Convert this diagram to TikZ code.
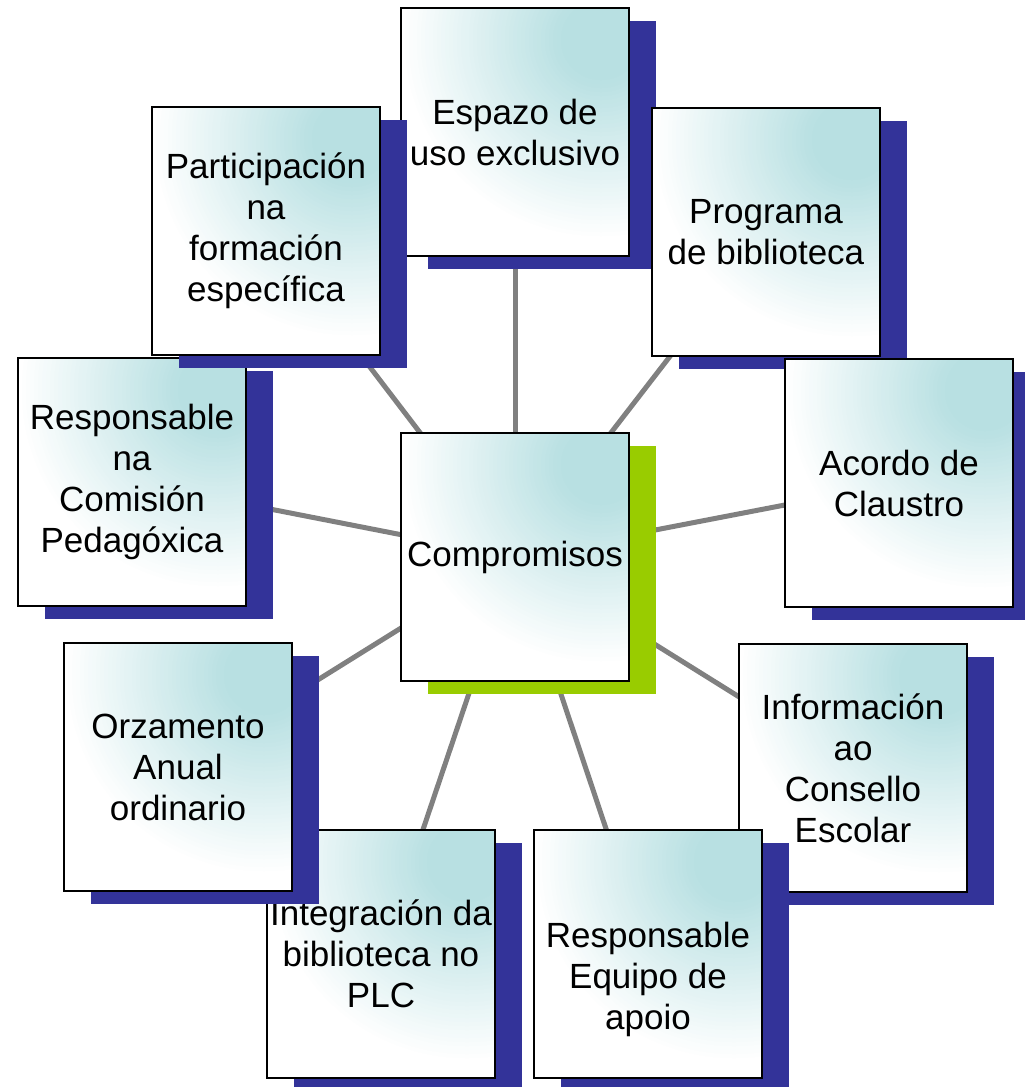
\documentclass[tikz,border=0pt]{standalone}
\usepackage{fontspec}
\setmainfont{Liberation Sans}
\usetikzlibrary{backgrounds}
\definecolor{boxteal}{RGB}{184,224,226}
\definecolor{shadowblue}{RGB}{51,51,153}
\definecolor{shadowgreen}{RGB}{153,204,0}
\definecolor{linkgray}{RGB}{128,128,128}
\tikzset{
  ibox/.style={rectangle, draw=black, line width=2.2pt, fill=white,
    path picture={
      \coordinate (gc) at ([shift={(-28pt,-32pt)}]path picture bounding box.north east);
      \foreach \i in {0,...,40}{%
        \pgfmathsetmacro\gr{200-4*\i}%
        \pgfmathsetmacro\gp{2.5*\i}%
        \fill[boxteal!\gp!white] (gc) circle[radius=\gr pt];}
    },
    minimum width=228pt, minimum height=248pt, inner sep=0pt, align=center,
    font=\fontsize{35}{41}\selectfont},
  itext/.style={align=center, inner sep=0pt, font=\fontsize{35}{41}\selectfont},
  link/.style={draw=linkgray, line width=5pt}
}
\newcommand\dshadow[3]{\fill[#1] ([shift={(-87,-111)}]#2,#3) rectangle ([shift={(141,137)}]#2,#3);}
\begin{document}
\begin{tikzpicture}[x=1pt,y=-1pt]
\useasboundingbox (0,0) rectangle (1025,1087);
% Espazo
\dshadow{shadowblue}{515}{132}
\node[ibox] (esp) at (515,132) {Espazo de\\uso exclusivo};
% Comision
\dshadow{shadowblue}{132}{482}
\node[ibox] (com) at (132,482) {Responsable\\na\\Comisión\\Pedagóxica};
% Participacion
\dshadow{shadowblue}{266}{231}
\node[ibox] (par) at (266,231) {Participación\\na\\formación\\específica};
% Programa
\dshadow{shadowblue}{766}{232}
\node[ibox] (pro) at (766,232) {Programa\\de biblioteca};
% Acordo
\dshadow{shadowblue}{899}{483}
\node[ibox] (aco) at (899,483) {Acordo de\\Claustro};
% Informacion
\dshadow{shadowblue}{853}{768}
\node[ibox] (inf) at (853,768) {Información\\ao\\Consello\\Escolar};
% Equipo
\dshadow{shadowblue}{648}{954}
\node[ibox] (equ) at (648,954) {};
\node[itext] (equt) at ([yshift=-25pt]equ.center) {Responsable\\Equipo de\\apoio};
% Integracion
\dshadow{shadowblue}{381}{954}
\node[ibox] (int) at (381,954) {Integración da\\biblioteca no\\PLC};
% Orzamento
\dshadow{shadowblue}{178}{767}
\node[ibox] (orz) at (178,767) {Orzamento\\Anual\\ordinario};
% Compromisos
\dshadow{shadowgreen}{515}{557}
\node[ibox] (cen) at (515,557) {Compromisos};
\begin{scope}[on background layer]
\foreach \n in {esp,com,par,pro,aco,inf,equ,int,orz}
  \draw[link] (cen.center) -- (\n.center);
\end{scope}
\end{tikzpicture}
\end{document}
